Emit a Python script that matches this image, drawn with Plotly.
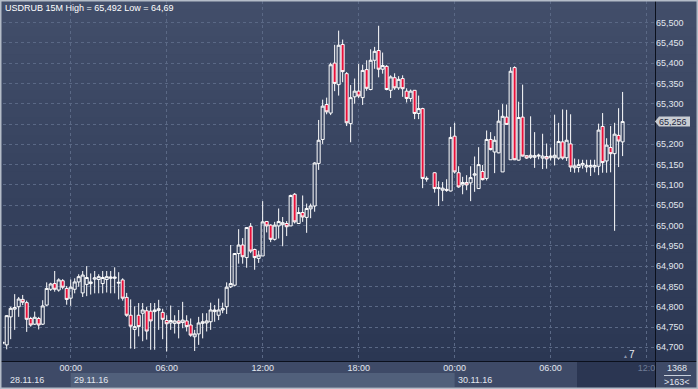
import plotly.graph_objects as go
import pandas as pd

# ---------------- data (USDRUB, 15-minute bars) ----------------
bar_start = "2016-11-28 19:45"   # first (partially visible) bar
missing_bar = "2016-11-29 22:30"  # no bar printed at this slot

opens = [64.710, 64.706, 64.775, 64.794, 64.800, 64.818, 64.810, 64.771, 64.757, 64.771,
         64.757, 64.804, 64.843, 64.857, 64.841, 64.864, 64.845, 64.821, 64.843, 64.861,
         64.834, 64.855, 64.857, 64.868, 64.867, 64.857, 64.867, 64.870, 64.870, 64.858,
         64.866, 64.823, 64.779, 64.744, 64.779, 64.784, 64.790, 64.789, 64.788, 64.791,
         64.786, 64.766, 64.760, 64.759, 64.765, 64.761, 64.765, 64.755, 64.726, 64.733,
         64.759, 64.760, 64.763, 64.788, 64.779, 64.792, 64.800, 64.849, 64.853, 64.931,
         64.952, 64.921, 64.998, 64.941, 64.919, 64.925, 65.010, 65.001, 64.966, 64.999,
         65.002, 65.005, 64.999, 65.077, 65.005, 65.032, 65.020, 65.041, 65.048, 65.153,
         65.212, 65.298, 65.277, 65.400, 65.347, 65.446, 65.374, 65.251, 65.317, 65.331,
         65.315, 65.384, 65.335, 65.407, 65.431, 65.385, 65.392, 65.333, 65.364, 65.339,
         65.362, 65.331, 65.313, 65.333, 65.276, 65.288, 65.114, 65.130, 65.091, 65.087,
         65.089, 65.085, 65.220, 65.130, 65.100, 65.106, 65.105, 65.124, 65.091, 65.133,
         65.116, 65.212, 65.181, 65.179, 65.132, 65.267, 65.162, 65.389, 65.161, 65.267,
         65.172, 65.168, 65.168, 65.171, 65.166, 65.170, 65.167, 65.167, 65.166, 65.206,
         65.167, 65.201, 65.142, 65.143, 65.149, 65.144, 65.144, 65.144, 65.146, 65.244,
         65.159, 65.192, 65.177, 65.222, 65.206]
highs = [64.715, 64.779, 64.800, 64.831, 64.824, 64.829, 64.815, 64.775, 64.788, 64.775,
         64.816, 64.860, 64.859, 64.888, 64.870, 64.868, 64.851, 64.867, 64.870, 64.880,
         64.888, 64.900, 64.882, 64.888, 64.880, 64.888, 64.888, 64.888, 64.897, 64.885,
         64.870, 64.834, 64.818, 64.801, 64.809, 64.809, 64.800, 64.809, 64.809, 64.817,
         64.795, 64.779, 64.803, 64.779, 64.792, 64.812, 64.779, 64.771, 64.743, 64.775,
         64.784, 64.784, 64.810, 64.804, 64.820, 64.810, 64.860, 64.952, 64.932, 64.991,
         64.969, 64.996, 65.006, 64.943, 64.938, 65.060, 65.011, 65.003, 65.009, 65.042,
         65.021, 65.011, 65.076, 65.080, 65.045, 65.074, 65.054, 65.054, 65.156, 65.260,
         65.310, 65.315, 65.401, 65.445, 65.480, 65.458, 65.378, 65.346, 65.362, 65.398,
         65.396, 65.407, 65.434, 65.440, 65.492, 65.426, 65.395, 65.370, 65.375, 65.368,
         65.370, 65.338, 65.335, 65.333, 65.320, 65.290, 65.121, 65.131, 65.109, 65.107,
         65.114, 65.243, 65.253, 65.146, 65.120, 65.124, 65.146, 65.170, 65.193, 65.149,
         65.234, 65.230, 65.220, 65.285, 65.299, 65.298, 65.390, 65.392, 65.305, 65.347,
         65.173, 65.269, 65.230, 65.177, 65.226, 65.202, 65.192, 65.273, 65.253, 65.286,
         65.285, 65.274, 65.165, 65.163, 65.162, 65.162, 65.162, 65.162, 65.251, 65.277,
         65.215, 65.245, 65.253, 65.289, 65.329]
lows = [64.706, 64.695, 64.720, 64.743, 64.775, 64.804, 64.738, 64.751, 64.755, 64.744,
        64.755, 64.802, 64.839, 64.837, 64.837, 64.843, 64.805, 64.802, 64.833, 64.849,
        64.824, 64.826, 64.830, 64.833, 64.833, 64.833, 64.835, 64.833, 64.833, 64.818,
        64.815, 64.775, 64.697, 64.696, 64.727, 64.715, 64.719, 64.694, 64.694, 64.743,
        64.720, 64.690, 64.743, 64.734, 64.722, 64.747, 64.739, 64.726, 64.691, 64.706,
        64.722, 64.739, 64.743, 64.763, 64.767, 64.784, 64.782, 64.846, 64.850, 64.906,
        64.906, 64.896, 64.932, 64.891, 64.908, 64.925, 64.983, 64.959, 64.963, 64.968,
        64.949, 64.974, 64.999, 65.005, 65.004, 65.009, 64.982, 65.018, 65.034, 65.137,
        65.201, 65.274, 65.272, 65.331, 65.320, 65.353, 65.245, 65.205, 65.300, 65.314,
        65.297, 65.332, 65.333, 65.386, 65.365, 65.374, 65.333, 65.314, 65.334, 65.334,
        65.317, 65.303, 65.305, 65.262, 65.262, 65.092, 65.108, 65.081, 65.048, 65.060,
        65.083, 65.084, 65.128, 65.093, 65.077, 65.087, 65.060, 65.083, 65.090, 65.111,
        65.111, 65.185, 65.129, 65.178, 65.132, 65.248, 65.162, 65.161, 65.160, 65.170,
        65.164, 65.164, 65.142, 65.163, 65.139, 65.140, 65.160, 65.148, 65.162, 65.162,
        65.159, 65.132, 65.130, 65.131, 65.140, 65.131, 65.122, 65.131, 65.124, 65.130,
        65.130, 65.131, 64.987, 65.144, 65.171]
closes = [64.712, 64.778, 64.796, 64.798, 64.819, 64.811, 64.769, 64.755, 64.774, 64.755,
          64.802, 64.845, 64.856, 64.843, 64.866, 64.848, 64.818, 64.848, 64.861, 64.874,
          64.878, 64.872, 64.861, 64.871, 64.874, 64.872, 64.874, 64.873, 64.873, 64.860,
          64.821, 64.779, 64.752, 64.751, 64.751, 64.792, 64.740, 64.765, 64.792, 64.795,
          64.769, 64.758, 64.766, 64.765, 64.759, 64.767, 64.751, 64.730, 64.733, 64.760,
          64.763, 64.765, 64.792, 64.792, 64.792, 64.796, 64.848, 64.857, 64.931, 64.952,
          64.923, 64.995, 64.937, 64.921, 64.927, 65.009, 64.999, 64.966, 65.001, 65.010,
          65.007, 64.997, 65.074, 65.009, 65.032, 65.021, 65.042, 65.048, 65.154, 65.210,
          65.294, 65.280, 65.396, 65.350, 65.444, 65.379, 65.253, 65.315, 65.331, 65.319,
          65.382, 65.338, 65.407, 65.429, 65.385, 65.394, 65.335, 65.366, 65.339, 65.360,
          65.337, 65.313, 65.331, 65.276, 65.288, 65.116, 65.116, 65.091, 65.093, 65.092,
          65.087, 65.217, 65.132, 65.095, 65.106, 65.100, 65.118, 65.127, 65.150, 65.113,
          65.212, 65.187, 65.210, 65.257, 65.269, 65.249, 65.380, 65.162, 65.266, 65.171,
          65.166, 65.173, 65.172, 65.173, 65.171, 65.164, 65.171, 65.173, 65.207, 65.166,
          65.210, 65.144, 65.147, 65.150, 65.153, 65.148, 65.148, 65.148, 65.235, 65.155,
          65.198, 65.177, 65.225, 65.208, 65.256]

title_text = "USDRUB 15M High = 65,492 Low = 64,69"
price_ticks = [64.70, 64.75, 64.80, 64.85, 64.90, 64.95, 65.00, 65.05, 65.10,
               65.15, 65.20, 65.25, 65.30, 65.35, 65.40, 65.45, 65.50]
price_labels = ["64,700", "64,750", "64,800", "64,850", "64,900", "64,950", "65,000",
                "65,050", "65,100", "65,150", "65,200", "", "65,300", "65,350",
                "65,400", "65,450", "65,500"]   # 65,250 hidden under the last-price tag
time_ticks = ["2016-11-29 00:00", "2016-11-29 06:00", "2016-11-29 12:00", "2016-11-29 18:00",
              "2016-11-30 00:00", "2016-11-30 06:00", "2016-11-30 12:00"]
time_labels = ["00:00", "06:00", "12:00", "18:00", "00:00", "06:00",
               "<span style='color:#6f7c96'>12:0</span>"]
date_labels = ["28.11.16", "29.11.16", "30.11.16"]
date_starts = ["2016-11-28 00:00", "2016-11-29 00:00", "2016-11-30 00:00"]
bar_count_text = "1368"
visible_count_text = ">163<"

# ---------------- build ----------------
times = pd.date_range(bar_start, periods=len(opens) + 1, freq="15min")
times = times[times != pd.Timestamp(missing_bar)]

W, H = 698, 389
def px(x): return x / W
def py(y): return 1 - y / H

fig = go.Figure()
fig.add_trace(go.Candlestick(
    x=times, open=opens, high=highs, low=lows, close=closes,
    increasing=dict(line=dict(color="#ffffff", width=1), fillcolor="rgba(0,0,0,0)"),
    decreasing=dict(line=dict(color="#ffffff", width=1), fillcolor="#e8103a"),
    whiskerwidth=0, showlegend=False, hoverinfo="skip",
))

shapes = []
# gradient background (plot + right panel)
N = 40
top = (66, 78, 106)
bot = (43, 55, 83)
for k in range(N):
    t = (k + 0.5) / N
    c = tuple(round(top[j] + (bot[j] - top[j]) * t) for j in range(3))
    shapes.append(dict(type="rect", xref="paper", yref="paper", x0=0, x1=1,
                       y0=py(361 * (k + 1) / N + 0.5), y1=py(361 * k / N),
                       fillcolor="rgb(%d,%d,%d)" % c, line=dict(width=0), layer="below"))
# bottom time panel
shapes.append(dict(type="rect", xref="paper", yref="paper", x0=0, x1=1, y0=0, y1=py(361),
                   fillcolor="#3e4a67", line=dict(width=0), layer="below"))
# highlighted day band (29.11)
shapes.append(dict(type="rect", xref="x", yref="paper", x0=date_starts[1], x1=date_starts[2],
                   y0=py(387), y1=py(373), fillcolor="#51607b", line=dict(width=0), layer="below"))
# darker future zone in time panel
shapes.append(dict(type="rect", xref="paper", yref="paper", x0=px(577), x1=px(655),
                   y0=py(388), y1=py(362), fillcolor="#2b3652", line=dict(width=0), layer="below"))
# separators
shapes.append(dict(type="line", xref="paper", yref="paper", x0=px(655.5), x1=px(655.5), y0=0, y1=1,
                   line=dict(color="#0b101c", width=1)))
shapes.append(dict(type="line", xref="paper", yref="paper", x0=0, x1=1, y0=py(361.5), y1=py(361.5),
                   line=dict(color="#0b101c", width=1)))
# line under bar count
shapes.append(dict(type="line", xref="paper", yref="paper", x0=px(664), x1=px(691), y0=py(375.5), y1=py(375.5),
                   line=dict(color="#c8d0dc", width=1)))
# outer frame
shapes.append(dict(type="rect", xref="paper", yref="paper", x0=0, x1=1, y0=0, y1=1,
                   line=dict(color="#b4bcc8", width=3), fillcolor="rgba(0,0,0,0)"))
# last price tag
last = closes[-1]
dy = 5 / 406.0
shapes.append(dict(type="path", xref="paper", yref="y",
                   path="M %f,%f L %f,%f L %f,%f L %f,%f L %f,%f Z" % (
                       px(655), last, px(659), last + dy, px(690), last + dy,
                       px(690), last - dy, px(659), last - dy),
                   fillcolor="#c9cdd3", line=dict(width=0)))

font = "Liberation Sans, Arial, sans-serif"
ann = []
ann.append(dict(text=title_text, xref="paper", yref="paper", x=px(3), y=py(8),
                xanchor="left", yanchor="middle", showarrow=False,
                font=dict(family=font, size=9, color="#ffffff")))
ann.append(dict(text="65,256", xref="paper", yref="y", x=px(657), y=last,
                xanchor="left", yanchor="middle", showarrow=False,
                font=dict(family=font, size=9, color="#1d2640")))
ann.append(dict(text=date_labels[0], xref="paper", yref="paper", x=px(8), y=py(380),
                xanchor="left", yanchor="middle", showarrow=False,
                font=dict(family=font, size=9, color="#e2e7ef")))
for lab, st in zip(date_labels[1:], date_starts[1:]):
    ann.append(dict(text=lab, xref="x", yref="paper", x=st, y=py(380), xshift=1,
                    xanchor="left", yanchor="middle", showarrow=False,
                    font=dict(family=font, size=9, color="#e2e7ef")))
ann.append(dict(text=bar_count_text, xref="paper", yref="paper", x=px(677), y=py(368),
                xanchor="center", yanchor="middle", showarrow=False,
                font=dict(family=font, size=9, color="#e2e7ef")))
ann.append(dict(text=visible_count_text, xref="paper", yref="paper", x=px(677), y=py(381.5),
                xanchor="center", yanchor="middle", showarrow=False,
                font=dict(family=font, size=9, color="#e2e7ef")))
ann.append(dict(text="7", xref="paper", yref="paper", x=px(632), y=py(354),
                xanchor="center", yanchor="middle", showarrow=False,
                font=dict(family=font, size=10, color="#e8ecf2")))
ann.append(dict(text="▲", xref="paper", yref="paper", x=px(625), y=py(356),
                xanchor="center", yanchor="middle", showarrow=False,
                font=dict(family=font, size=5, color="#8a96ad")))

fig.update_layout(
    width=W, height=H, margin=dict(l=0, r=0, t=0, b=0),
    paper_bgcolor="#3c4864", plot_bgcolor="rgba(0,0,0,0)",
    separators=", ", boxgap=0.13, boxgroupgap=0.13,
    shapes=shapes, annotations=ann,
    xaxis=dict(domain=[px(3), px(655)], type="date",
               range=["2016-11-28 19:46:07", "2016-11-30 12:31:30"],
               rangeslider=dict(visible=False),
               tickvals=time_ticks, ticktext=time_labels, ticks="",
               showgrid=True, gridcolor="#5a6885", griddash="3px,3px", gridwidth=1,
               zeroline=False, showline=False,
               tickfont=dict(family=font, size=9, color="#e2e7ef")),
    yaxis=dict(domain=[py(361), py(1)], side="right",
               range=[64.6663, 65.5530], tickvals=price_ticks, ticktext=price_labels,
               ticks="", showgrid=True, gridcolor="#5a6885", griddash="3px,3px", gridwidth=1,
               zeroline=False, showline=False,
               tickfont=dict(family=font, size=9, color="#e2e7ef")),
)

fig.write_html("out.html", config={"displayModeBar": False, "staticPlot": True},
               post_script="document.body.style.margin='0';document.body.style.overflow='hidden';")
